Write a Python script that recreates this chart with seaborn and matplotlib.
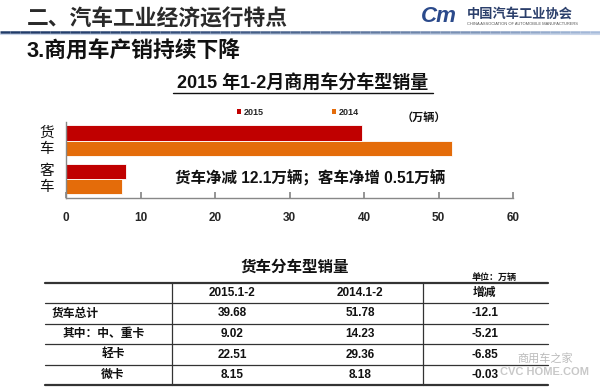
import matplotlib
matplotlib.use("Agg")
import matplotlib.pyplot as plt
import seaborn as sns
import pandas as pd
import numpy as np
from matplotlib.lines import Line2D
from matplotlib.patches import Patch
from matplotlib.collections import LineCollection
from matplotlib.colors import to_rgb

# ---------------- data ----------------
categories = ["货车", "客车"]
years = ["2015", "2014"]
sales_2015 = [39.68, 8.05]
sales_2014 = [51.78, 7.54]
x_ticks = [0, 10, 20, 30, 40, 50, 60]

table_cols = ["", "2015.1-2", "2014.1-2", "增减"]
table_rows = ["货车总计", "其中：中、重卡", "轻卡", "微卡"]
table_2015 = ["39.68", "9.02", "22.51", "8.15"]
table_2014 = ["51.78", "14.23", "29.36", "8.18"]
table_change = ["-12.1", "-5.21", "-6.85", "-0.03"]

colors = {"2015": "#C00000", "2014": "#E46C0A"}

# ---------------- setup ----------------
sns.set_theme(style="white")
plt.rcParams["font.family"] = ["Liberation Sans", "Noto Sans CJK SC", "DejaVu Sans"]

W, H = 600, 388
fig = plt.figure(figsize=(6, 3.88), dpi=100)
fig.patch.set_facecolor("white")

def fx(x):
    return x / W

def fy(y):
    return 1 - y / H

def ftext(x, y, s, **kw):
    fig.text(fx(x), fy(y), s, **kw)

def fline(x0, x1, y0, y1, **kw):
    fig.add_artist(Line2D([fx(x0), fx(x1)], [fy(y0), fy(y1)], transform=fig.transFigure, **kw))

# ---------------- header ----------------
ftext(27, 20, "二、汽车工业经济运行特点", fontsize=15.7, fontweight="bold", color="#2A2A2A",
      va="center", ha="left")

# gradient rule under the header
n = 60
xs = np.linspace(0, 600, n + 1)
c0, c1 = np.array(to_rgb("#1F3A68")), np.array(to_rgb("#A9BEDD"))
segs = [[(fx(xs[i]), fy(32)), (fx(xs[i + 1]), fy(32))] for i in range(n)]
cols = [tuple(c0 + (c1 - c0) * (i / n) ** 1.5) for i in range(n)]
fig.add_artist(LineCollection(segs, colors=cols, linewidths=1.8, transform=fig.transFigure))
fline(0, 600, 34, 34, color="#C9D6EA", lw=0.8)

ftext(421, 17, "Cm", fontsize=16, fontweight="bold", fontstyle="italic", color="#2B4A8B",
      va="center", ha="left")
ftext(467, 14.5, "中国汽车工业协会", fontsize=9.5, fontweight="bold", color="#2B3F6B",
      va="center", ha="left")
ftext(467, 24, "CHINA ASSOCIATION OF AUTOMOBILE MANUFACTURERS", fontsize=2.9, color="#555555",
      va="center", ha="left")
ftext(27, 52, "3.商用车产销持续下降", fontsize=15.7, fontweight="bold", color="#111111",
      va="center", ha="left")

# ---------------- chart ----------------
ftext(303, 84, "2015 年1-2月商用车分车型销量", fontsize=13, fontweight="bold",
      color="#111111", va="center", ha="center")
fline(173, 433, 93, 93, color="#111111", lw=1.0)

df = pd.DataFrame({
    "cat": categories * 2,
    "year": [years[0]] * len(categories) + [years[1]] * len(categories),
    "val": sales_2015 + sales_2014,
})

ax = fig.add_axes([fx(66), fy(198), fx(513) - fx(66), fy(122) - fy(198)])
sns.barplot(data=df, y="cat", x="val", hue="year", orient="h", palette=colors,
            hue_order=years, order=categories, width=0.78, ax=ax, saturation=1,
            edgecolor="white", linewidth=0.6, legend=False)
ax.set_xlim(0, 60)
ax.set_ylim(1.49, -0.48)
ax.set_xticks(x_ticks)
ax.set_xticklabels([str(t) for t in x_ticks], fontsize=8.5, fontweight="bold")
ax.set_yticks([])
ax.set_xlabel("")
ax.set_ylabel("")
for s in ["top", "right"]:
    ax.spines[s].set_visible(False)
for s in ["left", "bottom"]:
    ax.spines[s].set_color("#888888")
    ax.spines[s].set_linewidth(1.0)
ax.tick_params(axis="x", direction="in", length=4, color="#888888", pad=10, bottom=True)
ax.set_facecolor("none")

for i, c in enumerate(categories):
    ax.text(-0.027, i, "\n".join(c), transform=ax.get_yaxis_transform(),
            ha="right", va="center", fontsize=10.5, linespacing=1.2, color="#111111")

handles = [Patch(facecolor=colors[y], edgecolor="none") for y in years]
ax.legend(handles, years, ncol=2, loc="center", bbox_to_anchor=(0.519, 1.13),
          frameon=False, handlelength=0.5, handleheight=0.5, handletextpad=0.3,
          columnspacing=7.5, prop={"weight": "bold", "size": 6.5})

ftext(402, 118, "（万辆）", fontsize=8, fontweight="bold", color="#111111",
      va="center", ha="left")
ftext(175, 178, "货车净减 12.1万辆；客车净增 0.51万辆", fontsize=11.2, fontweight="bold",
      color="#111111", va="center", ha="left")

# ---------------- table ----------------
ftext(295, 267, "货车分车型销量", fontsize=11.2, fontweight="bold", color="#111111",
      va="center", ha="center")
ftext(472, 277, "单位：万辆", fontsize=6.5, fontweight="bold", color="#111111",
      va="center", ha="left")

row_y = [283, 303, 324, 344, 365, 385]
x_left, x_right = 45, 548
col_x = [172, 423]
for k, y in enumerate(row_y):
    lw = 1.6 if k in (0, len(row_y) - 1) else 0.9
    fline(x_left, x_right, y, y, color="#333333", lw=lw)
for x in col_x:
    fline(x, x, row_y[0], row_y[-1], color="#333333", lw=0.9)

def mid(k):
    return (row_y[k] + row_y[k + 1]) / 2

tkw = dict(fontsize=8.5, fontweight="bold", color="#111111", va="center")
ftext(232, mid(0), table_cols[1], ha="center", **tkw)
ftext(360, mid(0), table_cols[2], ha="center", **tkw)
ftext(473, mid(0), table_cols[3], ha="left", **tkw)

label_pos = [(52, "left"), (63, "left"), (113, "center"), (113, "center")]
for r in range(len(table_rows)):
    y = mid(r + 1)
    lx, la = label_pos[r]
    ftext(lx, y, table_rows[r], ha=la, **tkw)
    ftext(232, y, table_2015[r], ha="center", **tkw)
    ftext(360, y, table_2014[r], ha="center", **tkw)
    ftext(472, y, table_change[r], ha="left", **tkw)

# watermark
ftext(545, 358, "商用车之家", fontsize=8, color="#BBBBBB", va="center", ha="center")
ftext(545, 372, "CVC HOME.COM", fontsize=8, fontweight="bold", color="#C8C8C8",
      va="center", ha="center")

fig.savefig("out.png", dpi=100, facecolor="white")
